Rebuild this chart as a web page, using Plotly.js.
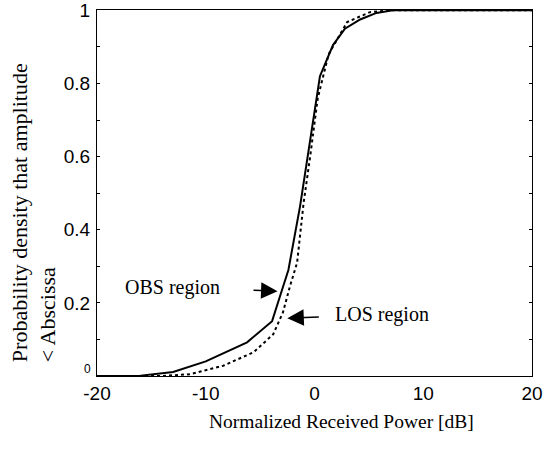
<!DOCTYPE html>
<html>
<head>
<meta charset="utf-8">
<script src="https://cdn.plot.ly/plotly-3.0.1.min.js"></script>
<style>html,body{margin:0;padding:0;background:#fff;}#chart{width:559px;height:449px;}</style>
</head>
<body>
<div id="chart"></div>
<script>
// OBS region (solid curve)
const obsX = [-20, -16, -13, -10, -6.2, -3.9, -3.1, -2.4, -1.33, -0.1, 0.5, 1.7, 2.8, 4.2, 5.7, 7.2, 10, 20];
const obsY = [0, 0.001, 0.011, 0.04, 0.092, 0.15, 0.225, 0.29, 0.464, 0.70, 0.82, 0.905, 0.95, 0.975, 0.993, 1.0, 1.0, 1.0];
// LOS region (dotted curve)
const losX = [-20, -14, -11.4, -8.4, -5.6, -3.8, -2.9, -2.25, -1.6, -1.0, -0.4, 0.3, 1.3, 3.0, 5.1, 7.0, 10, 20];
const losY = [0, 0.0, 0.005, 0.028, 0.065, 0.114, 0.174, 0.246, 0.31, 0.474, 0.60, 0.76, 0.88, 0.968, 0.995, 1.0, 1.0, 1.0];

const xTicks = [-20, -10, 0, 10, 20];
const yTicks = [0.2, 0.4, 0.6, 0.8, 1];
const yTickText = ['0.2', '0.4', '0.6', '0.8', '1'];
const yZeroLabel = '0';

const traces = [
  {x: obsX, y: obsY, mode: 'lines', line: {color: '#000', width: 2}, name: 'OBS', hoverinfo: 'skip'},
  {x: losX, y: losY, mode: 'lines', line: {color: '#000', width: 2, dash: 'dot'}, name: 'LOS', hoverinfo: 'skip'}
];

const serif = 'Times New Roman, Liberation Serif, serif';
const sans = 'Arial, Liberation Sans, sans-serif';

const layout = {
  width: 559, height: 449,
  margin: {l: 97, r: 27, t: 10, b: 73},
  paper_bgcolor: '#fff', plot_bgcolor: '#fff',
  showlegend: false,
  xaxis: {
    range: [-20, 20], tickvals: xTicks, ticktext: xTicks.map(String),
    showgrid: false, zeroline: false, showline: true, linecolor: '#000', linewidth: 1, mirror: true,
    ticks: '', tickfont: {family: sans, size: 19, color: '#000'}, ticklabelstandoff: 0
  },
  yaxis: {
    range: [0, 1.001], tickvals: yTicks, ticktext: yTickText,
    showgrid: false, zeroline: false, showline: true, linecolor: '#000', linewidth: 1, mirror: 'ticks',
    ticks: 'inside', ticklen: 3, tickcolor: '#000',
    minor: {dtick: 0.1, ticks: 'inside', ticklen: 3, tickcolor: '#000'},
    tickfont: {family: sans, size: 19, color: '#000'}, ticklabelstandoff: 2
  },
  annotations: [
    {xref: 'paper', yref: 'paper', x: -0.012, y: 0.018, xanchor: 'right', yanchor: 'middle',
     text: yZeroLabel, showarrow: false, borderpad: 0, font: {family: sans, size: 12, color: '#000'}},
    {xref: 'paper', yref: 'paper', x: (34 - 97) / 435, y: 0.445, xanchor: 'center', yanchor: 'middle',
     text: 'Probability density that amplitude<br>&lt; Abscissa', textangle: -90, align: 'left',
     showarrow: false, font: {family: serif, size: 22, color: '#000'}},
    {xref: 'paper', yref: 'paper', x: (341 - 97) / 435, y: -0.125, xanchor: 'center', yanchor: 'middle',
     text: 'Normalized Received Power [dB]', showarrow: false, font: {family: serif, size: 19.5, color: '#000'}},
    {x: -3.4, y: 0.232, ax: -105, ay: -4, text: 'OBS region', showarrow: true, arrowhead: 2, arrowsize: 2.2,
     arrowwidth: 1.5, arrowcolor: '#000', startstandoff: 32, font: {family: serif, size: 20, color: '#000'}},
    {x: -2.5, y: 0.158, ax: 95, ay: -4, text: 'LOS region', showarrow: true, arrowhead: 2, arrowsize: 2.2,
     arrowwidth: 1.5, arrowcolor: '#000', startstandoff: 15, font: {family: serif, size: 20, color: '#000'}}
  ]
};

Plotly.newPlot('chart', traces, layout, {displayModeBar: false, staticPlot: true});
</script>
</body>
</html>
